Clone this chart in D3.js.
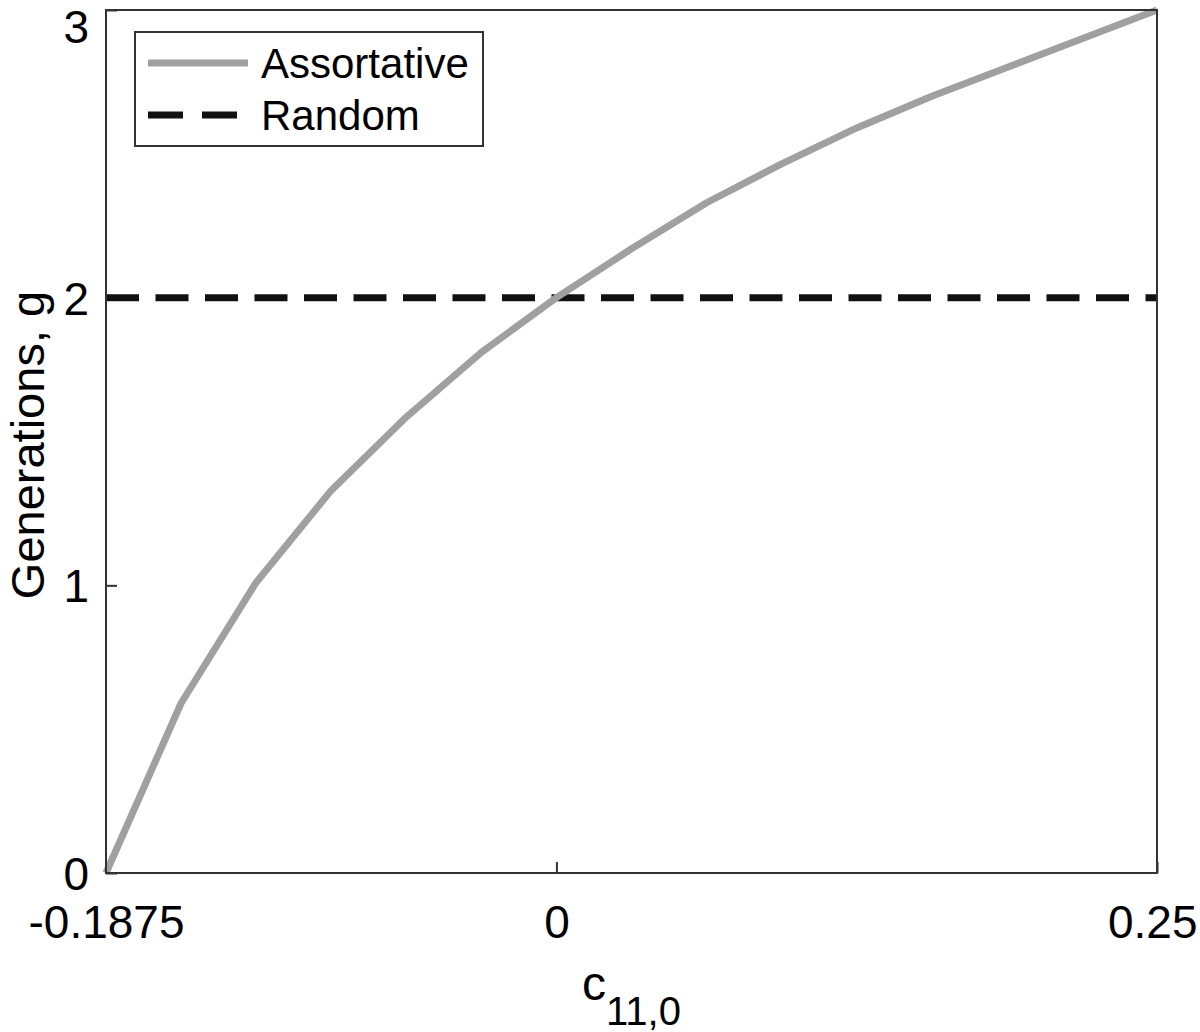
<!DOCTYPE html>
<html>
<head>
<meta charset="utf-8">
<script src="https://cdn.jsdelivr.net/npm/d3@7"></script>
<style>
body { margin: 0; background: #fff; }
svg text { font-family: "Liberation Sans", Arial, Helvetica, sans-serif; fill: #000; }
</style>
</head>
<body>
<div id="chart"></div>
<script>
var width = 1200,
height = 1032,
margin = {top: 10, right: 43, bottom: 159, left: 106}

// assortative mating curve
var cValues = [-0.1875, -0.15625, -0.125, -0.09375, -0.0625, -0.03125, 0, 0.03125, 0.0625, 0.09375, 0.125, 0.15625, 0.1875, 0.21875, 0.25]
var assortative = [0, 0.59, 1.01, 1.33, 1.585, 1.81, 2.0, 2.17, 2.33, 2.465, 2.59, 2.70, 2.80, 2.90, 3.0]
var randomG = 2
var xTicks = [-0.1875, 0, 0.25]
var xTickLabels = ["-0.1875", "0", "0.25"]
var yTicks = [0, 1, 2, 3]

var svg = d3.select('#chart')
	.append("svg")
	.attr("width", width)
	.attr("height", height)

var x = d3.scaleLinear()
	.domain([-0.1875, 0.25])
	.range([margin.left, width - margin.right])

var y = d3.scaleLinear()
	.domain([0, 3])
	.range([height - margin.bottom, margin.top])

var axisColor = "#333"

// bottom axis, ticks pointing inward
var xAxis = svg.append("g")
	.attr("transform", "translate(0," + (height - margin.bottom) + ")")
	.call(d3.axisBottom(x).tickValues(xTicks).tickFormat(function(d, i) { return xTickLabels[i]; }).tickSizeInner(-11).tickSizeOuter(0))
xAxis.select(".domain").remove()
xAxis.selectAll(".tick line").attr("stroke", axisColor).attr("stroke-width", 2)
xAxis.selectAll(".tick text")
	.attr("y", 65)
	.attr("dy", 0)
	.style("font-size", "46px")
// last label would run off the page, pin its right edge inside
xAxis.selectAll(".tick text")
	.filter(function(d) { return d === 0.25; })
	.attr("text-anchor", "end")
	.attr("x", 40)

var yAxis = svg.append("g")
	.attr("transform", "translate(" + margin.left + ",0)")
	.call(d3.axisLeft(y).tickValues(yTicks).tickFormat(d3.format("d")).tickSizeInner(-11).tickSizeOuter(0))
yAxis.select(".domain").remove()
yAxis.selectAll(".tick line").attr("stroke", axisColor).attr("stroke-width", 2)
yAxis.selectAll(".tick text")
	.attr("x", -17)
	.attr("dy", function(d) { return d === 3 ? "0.7em" : "0.36em"; })
	.style("font-size", "46px")

// data lines
var line = d3.line()
	.x(function(d, i) { return x(cValues[i]); })
	.y(function(d) { return y(d); })

svg.append("line")
	.attr("x1", x.range()[0])
	.attr("x2", x.range()[1])
	.attr("y1", y(randomG))
	.attr("y2", y(randomG))
	.attr("stroke", "#111")
	.attr("stroke-width", 7)
	.attr("stroke-dasharray", "33,16.5")

svg.append("path")
	.datum(assortative)
	.attr("d", line)
	.attr("fill", "none")
	.attr("stroke", "#a0a0a0")
	.attr("stroke-width", 7)
	.attr("stroke-linejoin", "round")

// box
svg.append("rect")
	.attr("x", x.range()[0])
	.attr("y", y.range()[1])
	.attr("width", x.range()[1] - x.range()[0])
	.attr("height", y.range()[0] - y.range()[1])
	.attr("fill", "none")
	.attr("stroke", axisColor)
	.attr("stroke-width", 2)

// axis titles
svg.append("text")
	.attr("transform", "translate(44," + 445 + ") rotate(-90)")
	.attr("text-anchor", "middle")
	.style("font-size", "47px")
	.text("Generations, g")

var xlab = svg.append("text")
	.attr("x", (x.range()[0] + x.range()[1]) / 2)
	.attr("y", 1000)
	.attr("text-anchor", "middle")
	.style("font-size", "48px")
xlab.append("tspan").text("c")
xlab.append("tspan")
	.attr("dy", 25)
	.style("font-size", "40px")
	.text("11,0")

// legend
var legend = svg.append("g")
legend.append("rect")
	.attr("x", 135)
	.attr("y", 32)
	.attr("width", 348)
	.attr("height", 114)
	.attr("fill", "#fff")
	.attr("stroke", axisColor)
	.attr("stroke-width", 2)

var legendItems = [
	{name: "Assortative", color: "#a0a0a0", dash: null, x2: 248},
	{name: "Random", color: "#111", dash: "35,19", x2: 237}
]
legendItems.forEach(function(d, i) {
	var ly = 63 + i * 52
	legend.append("line")
		.attr("x1", 148)
		.attr("x2", d.x2)
		.attr("y1", ly)
		.attr("y2", ly)
		.attr("stroke", d.color)
		.attr("stroke-width", 7)
		.attr("stroke-dasharray", d.dash)
	legend.append("text")
		.attr("x", 261)
		.attr("y", ly)
		.attr("dy", "0.36em")
		.style("font-size", "42px")
		.text(d.name)
})
</script>
</body>
</html>
